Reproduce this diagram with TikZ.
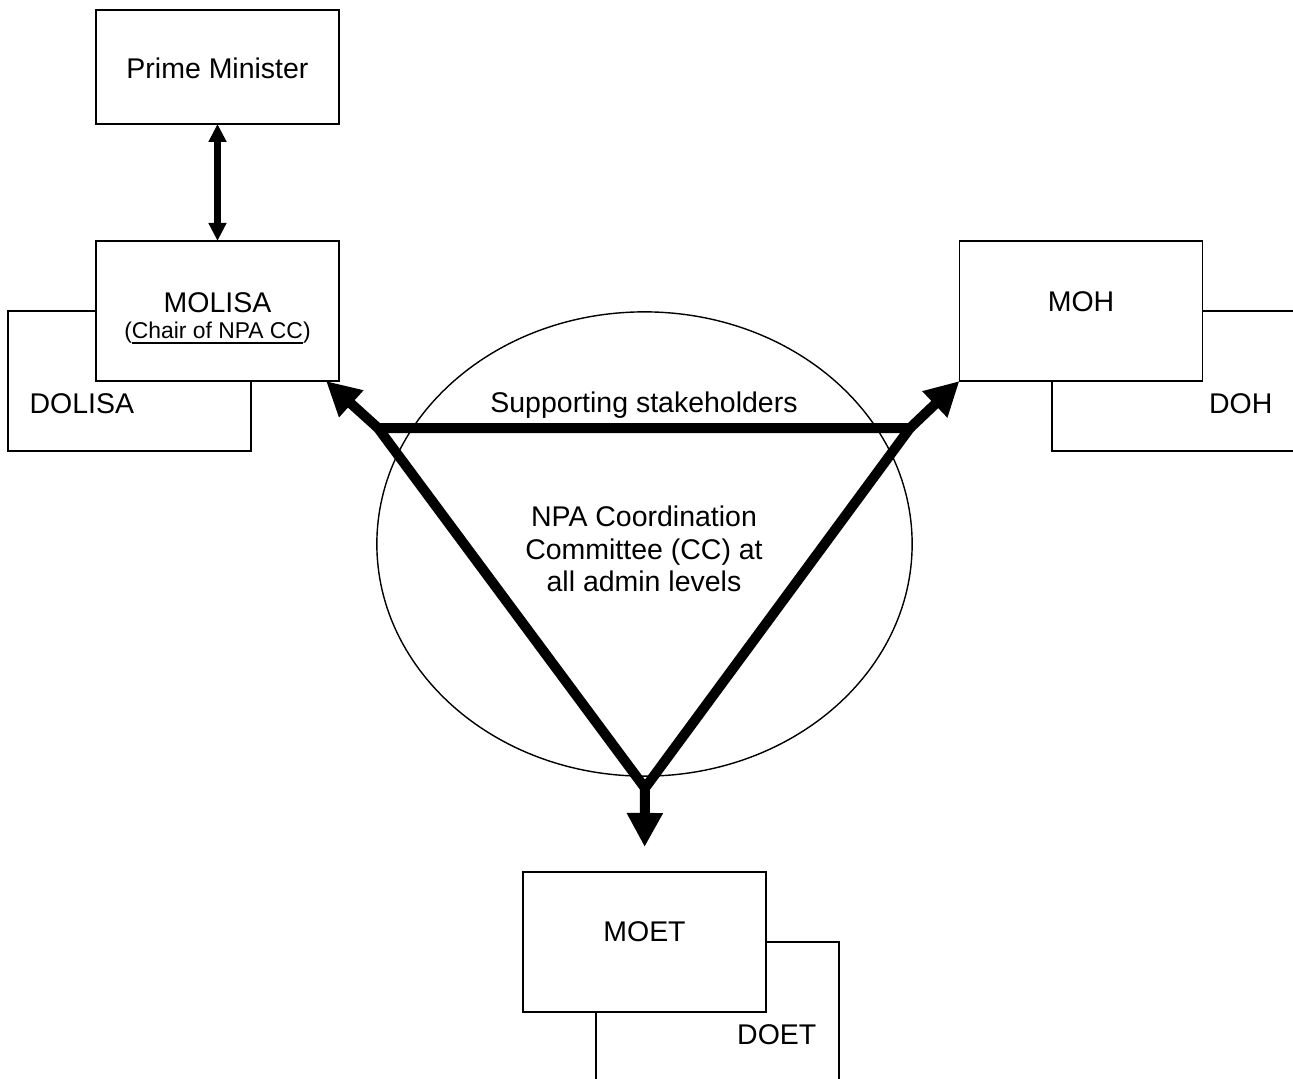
\documentclass[tikz,border=0pt]{standalone}
\usepackage{fontspec}
\setmainfont{Liberation Sans}
\usetikzlibrary{positioning}
\usetikzlibrary{shapes.geometric}
\usetikzlibrary{arrows.meta}

\begin{document}
\begin{tikzpicture}[
            x = 0.01cm,
            y = -0.01cm,
            box/.style = {
                draw,
                fill = white,
                line width = 0.45pt,
                minimum width = 2.43cm,
                minimum height = #1,
                inner sep = 0pt,
                outer sep = 0pt
            },
            box/.default = 1.4cm,
            txt/.style = {
                inner sep = 0pt,
                font = \fontsize{8.1pt}{9.25pt}\selectfont
            },
            small/.style = {
                inner sep = 0pt,
                font = \fontsize{6.5pt}{7.5pt}\selectfont
            },
            tri/.style = {
                line width = 0.1cm,
                line join = miter
            },
            bigarrow/.style = {
                line width = 0.1cm,
                -{Triangle[width=0.34cm, length=0.34cm]}
            },
            linkarrow/.style = {
                line width = 0.06cm,
                {Triangle[width=0.17cm, length=0.18cm]}-{Triangle[width=0.17cm, length=0.18cm]}
            },
            node distance = {1.17cm}
            ]
            \useasboundingbox (0,0) rectangle (1293,1078);
            \clip (0,0) rectangle (1293,1078);

            \node[box] (dolisa) at (129.5,381) {};
            \node[box] (doh) at (1173.5,381) {};
            \node[box] (doet) at (717.5,1012) {};
            \node[box] (molisa) at (217.5,311) {};
            \node[box] (moh) at (1081,311) {};
            \node[box] (moet) at (644.5,942) {};
            \node[box=1.14cm, above=of molisa] (pm) {};

            \node[draw, ellipse, line width=0.4pt, minimum width=5.35cm, minimum height=4.64cm, inner sep=0pt] (cc) at (644.5,544) {};

            \coordinate (tl) at (378,428);
            \coordinate (tr) at (910,428);
            \coordinate (bt) at (645,788);

            \draw[linkarrow] (pm.south) -- (molisa.north);
            \draw[tri] (tl) -- (tr) -- (bt) -- cycle;
            \draw[bigarrow] (tl) -- ([xshift=-0.13cm]molisa.south east);
            \draw[bigarrow] (tr) -- (moh.south west);
            \draw[bigarrow, shorten >=0.25cm] (bt) -- (moet.north);

            \node[txt, anchor=base] (pm-t) at ([yshift=-0.69cm]pm.north) {Prime Minister};
            \node[txt, anchor=base] (molisa-t) at ([yshift=-0.71cm]molisa.north) {MOLISA};
            \node[small, anchor=base] (molisa-s) at ([yshift=-0.97cm]molisa.north) {(\underline{Chair of NPA CC})};
            \node[txt, anchor=base] (moh-t) at ([yshift=-0.70cm]moh.north) {MOH};
            \node[txt, anchor=base] (moet-t) at ([yshift=-0.69cm]moet.north) {MOET};
            \node[txt, anchor=base west] (dolisa-t) at ([xshift=0.21cm, yshift=-1.02cm]dolisa.north west) {DOLISA};
            \node[txt, anchor=base east] (doh-t) at ([xshift=-0.22cm, yshift=-1.02cm]doh.north east) {DOH};
            \node[txt, anchor=base east] (doet-t) at ([xshift=-0.22cm, yshift=-1.02cm]doet.north east) {DOET};
            \node[txt, anchor=base] (supp) at (644,412) {Supporting stakeholders};
            \node[txt, align=center] (npa) at (644,549) {NPA Coordination\\Committee (CC) at\\all admin levels};
\end{tikzpicture}
\end{document}
